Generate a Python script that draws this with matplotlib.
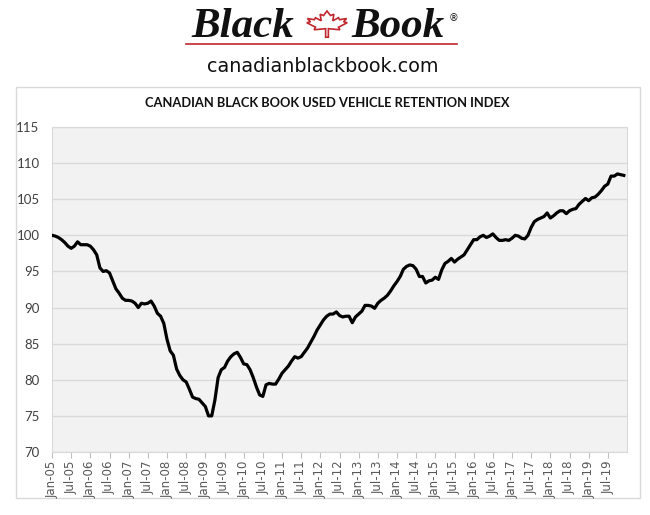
import matplotlib.pyplot as plt
from matplotlib.patches import Rectangle, Polygon

# monthly index values, Jan-05 .. Dec-19
y2005 = [100.0, 99.9, 99.7, 99.4, 99.0, 98.5, 98.2, 98.5, 99.1, 98.7, 98.7, 98.7]
y2006 = [98.5, 98.0, 97.3, 95.5, 95.0, 95.1, 94.8, 93.7, 92.6, 92.0, 91.3, 91.0]
y2007 = [91.0, 90.9, 90.6, 90.0, 90.6, 90.5, 90.6, 90.9, 90.2, 89.2, 88.8, 87.8]
y2008 = [85.6, 84.0, 83.4, 81.5, 80.6, 80.0, 79.7, 78.7, 77.6, 77.4, 77.3, 76.8]
y2009 = [76.3, 75.0, 75.0, 77.2, 80.3, 81.4, 81.7, 82.6, 83.2, 83.6, 83.8, 83.1]
y2010 = [82.2, 82.1, 81.4, 80.3, 79.0, 77.9, 77.7, 79.3, 79.5, 79.4, 79.4, 80.1]
y2011 = [80.9, 81.4, 81.9, 82.6, 83.2, 83.0, 83.2, 83.8, 84.4, 85.2, 86.0, 86.9]
y2012 = [87.6, 88.3, 88.8, 89.1, 89.1, 89.4, 88.9, 88.7, 88.8, 88.8, 87.9, 88.7]
y2013 = [89.1, 89.5, 90.3, 90.3, 90.2, 89.9, 90.6, 91.0, 91.3, 91.7, 92.3, 93.0]
y2014 = [93.6, 94.3, 95.3, 95.7, 95.9, 95.8, 95.3, 94.3, 94.3, 93.4, 93.7, 93.8]
y2015 = [94.2, 93.9, 95.2, 96.1, 96.4, 96.8, 96.3, 96.7, 97.0, 97.3, 98.0, 98.7]
y2016 = [99.4, 99.4, 99.8, 100.0, 99.7, 99.9, 100.2, 99.7, 99.3, 99.3, 99.4, 99.3]
y2017 = [99.6, 100.0, 99.9, 99.6, 99.5, 100.0, 101.1, 101.9, 102.2, 102.4, 102.6, 103.1]
y2018 = [102.4, 102.7, 103.1, 103.4, 103.4, 103.0, 103.4, 103.6, 103.7, 104.3, 104.7, 105.1]
y2019 = [104.8, 105.2, 105.3, 105.7, 106.2, 106.8, 107.1, 108.2, 108.2, 108.5, 108.4, 108.3]

years = [y2005, y2006, y2007, y2008, y2009, y2010, y2011, y2012,
         y2013, y2014, y2015, y2016, y2017, y2018, y2019]
values = [v for yr in years for v in yr]
months = list(range(len(values)))

tick_labels = []
for yy in range(5, 20):
    tick_labels.append('Jan-%02d' % yy)
    tick_labels.append('Jul-%02d' % yy)

W, H = 650, 515
fig = plt.figure(figsize=(6.5, 5.15), dpi=100)

def fx(px):
    return px / W

def fy(py):
    return 1 - py / H

# header logo
fig.text(fx(243), fy(27), 'Black', ha='center', va='center', fontsize=31,
         family='Liberation Serif', style='italic', weight='bold', color='#111111')
fig.text(fx(398), fy(27), 'Book', ha='center', va='center', fontsize=31,
         family='Liberation Serif', style='italic', weight='bold', color='#111111')
fig.text(fx(453), fy(18), '®', ha='center', va='center', fontsize=7, color='#111111')
fig.add_artist(plt.Line2D([fx(186), fx(457)], [fy(44), fy(44)], color='#c0272d', lw=1.2))

leaf = [(0, 1), (0.15, 0.7), (0.3, 0.78), (0.25, 0.35), (0.5, 0.55), (0.55, 0.42),
        (0.85, 0.5), (0.72, 0.28), (0.88, 0.22), (0.5, -0.08), (0.56, -0.25),
        (0.06, -0.18), (0.06, -0.75), (-0.06, -0.75), (-0.06, -0.18), (-0.56, -0.25),
        (-0.5, -0.08), (-0.88, 0.22), (-0.72, 0.28), (-0.85, 0.5), (-0.55, 0.42),
        (-0.5, 0.55), (-0.25, 0.35), (-0.3, 0.78), (-0.15, 0.7)]
cx, cy, sx, sy = 327, 26, 23, 15
leaf_pts = [(fx(cx + sx * a), fy(cy - sy * b)) for a, b in leaf]
fig.add_artist(Polygon(leaf_pts, closed=True, facecolor='white', edgecolor='#c0272d', lw=1.2))

fig.text(fx(323), fy(66), 'canadianblackbook.com', ha='center', va='center',
         fontsize=13.8, family='DejaVu Sans', color='#111111')

# chart frame
fig.add_artist(Rectangle((fx(16), fy(498)), fx(640) - fx(16), fy(87) - fy(498),
                         facecolor='white', edgecolor='#d9d9d9', lw=1, zorder=0))

fig.text(fx(327), fy(103), 'CANADIAN BLACK BOOK USED VEHICLE RETENTION INDEX',
         ha='center', va='center', fontsize=9.3, family='Lato', weight='bold', color='#111111')

ax = fig.add_axes([fx(52), fy(452), fx(627) - fx(52), fy(127) - fy(452)])
ax.set_facecolor('#f2f2f2')
ax.plot(months, values, color='black', lw=2.3, zorder=3)

ax.set_xlim(0, 180)
ax.set_ylim(70, 115)
ax.set_yticks(range(70, 116, 5))
ax.yaxis.grid(True, color='#d9d9d9', lw=1)
ax.set_axisbelow(True)
ax.tick_params(axis='y', length=0, pad=9, labelsize=9.5, labelcolor='#404040')
for lab in ax.get_yticklabels():
    lab.set_family('Lato')

ax.set_xticks(range(0, 180, 6))
ax.set_xticklabels(tick_labels, rotation=90, fontsize=8.5, color='#595959')
ax.tick_params(axis='x', length=4, color='#bfbfbf', pad=2)

for s in ax.spines.values():
    s.set_color('#d9d9d9')

fig.savefig('out.png', dpi=100)
